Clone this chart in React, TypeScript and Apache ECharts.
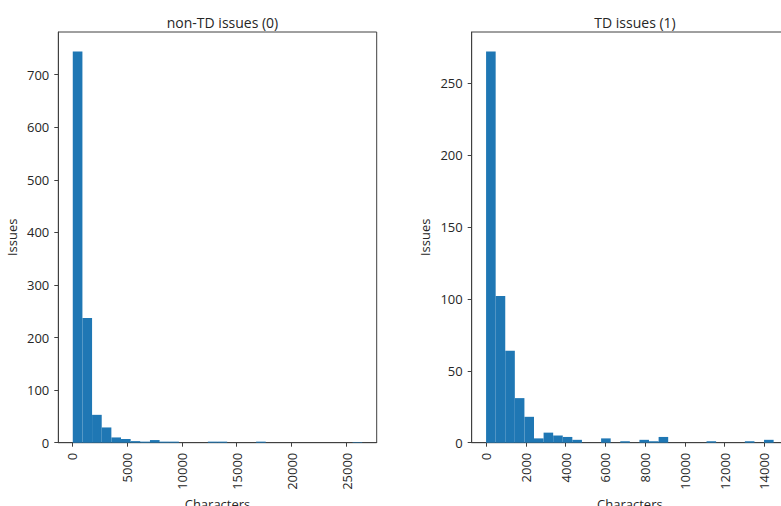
import React, { useEffect, useRef } from "react";
import * as echarts from "echarts";

// Histogram counts (30 bins each)
const LEFT_COUNTS = [744, 237, 53, 29, 10, 7, 3, 2, 5, 2, 2, 0, 0, 0, 2, 2, 0, 0, 0, 2, 0, 0, 0, 0, 0, 0, 0, 0, 0, 1];
const LEFT_RANGE = [70, 26432];
const RIGHT_COUNTS = [272, 102, 64, 31, 18, 3, 7, 5, 4, 2, 0, 0, 3, 0, 1, 0, 2, 1, 4, 0, 0, 0, 0, 1, 0, 0, 0, 1, 0, 2];
const RIGHT_RANGE = [4, 14468];

const LEFT_X_TICKS = [0, 5000, 10000, 15000, 20000, 25000];
const LEFT_Y_TICKS = [0, 100, 200, 300, 400, 500, 600, 700];
const RIGHT_X_TICKS = [0, 2000, 4000, 6000, 8000, 10000, 12000, 14000];
const RIGHT_Y_TICKS = [0, 50, 100, 150, 200, 250];

const TITLES = ["non-TD issues (0)", "TD issues (1)"];
const X_NAME = "Characters";
const Y_NAME = "Issues";

const FONT = "'Open Sans', 'Noto Sans', sans-serif";
const TEXT = "#262626";
const LINE = "#404040";
const BAR = "#1f77b4";

function bins(counts: number[], range: number[]) {
  const w = (range[1] - range[0]) / counts.length;
  return counts.map((c, i) => [range[0] + i * w, range[0] + (i + 1) * w, c]);
}

function xAxis(grid: number, range: number[], ticks: number[]) {
  const r = range[1] - range[0];
  return {
    type: "value",
    gridIndex: grid,
    min: range[0] - 0.05 * r,
    max: range[1] + 0.05 * r,
    splitLine: { show: false },
    axisLine: { show: true, onZero: false, lineStyle: { color: LINE, width: 1 } },
    axisTick: { show: true, length: 4, customValues: ticks, lineStyle: { color: LINE } },
    axisLabel: {
      customValues: ticks,
      rotate: 90,
      margin: 10,
      fontFamily: FONT,
      fontSize: 13,
      color: TEXT,
      formatter: (v: number) => String(v),
    },
    name: X_NAME,
    nameLocation: "middle",
    nameGap: 55,
    nameTextStyle: { fontFamily: FONT, fontSize: 13, color: TEXT },
  };
}

function yAxis(grid: number, counts: number[], ticks: number[]) {
  return {
    type: "value",
    gridIndex: grid,
    min: 0,
    max: Math.max(...counts) * 1.05,
    splitLine: { show: false },
    axisLine: { show: true, onZero: false, lineStyle: { color: LINE, width: 1 } },
    axisTick: { show: true, length: 4, customValues: ticks, lineStyle: { color: LINE } },
    axisLabel: {
      customValues: ticks,
      margin: 9,
      fontFamily: FONT,
      fontSize: 13,
      color: TEXT,
      formatter: (v: number) => String(v),
    },
    name: Y_NAME,
    nameLocation: "middle",
    nameRotate: 90,
    nameGap: 40,
    nameTextStyle: { fontFamily: FONT, fontSize: 13, color: TEXT },
  };
}

function renderBar(_params: any, api: any) {
  const x0 = api.value(0);
  const x1 = api.value(1);
  const c = api.value(2);
  if (!c) return null;
  const p0 = api.coord([x0, 0]);
  const p1 = api.coord([x1, c]);
  return {
    type: "rect",
    shape: { x: p0[0], y: p1[1], width: p1[0] - p0[0], height: p0[1] - p1[1] },
    style: { fill: BAR },
  };
}

export default function App() {
  const ref = useRef<HTMLDivElement>(null);
  useEffect(() => {
    if (!ref.current) return;
    const chart = echarts.init(ref.current, undefined, { renderer: "svg" });
    const gridTop = 32;
    const gridH = 410.7;
    chart.setOption({
      animation: false,
      backgroundColor: "#ffffff",
      title: [
        {
          text: TITLES[0],
          left: 217.5,
          top: 10,
          textAlign: "center",
          textStyle: { fontFamily: FONT, fontSize: 14, fontWeight: "normal", color: TEXT },
        },
        {
          text: TITLES[1],
          left: 630,
          top: 10,
          textAlign: "center",
          textStyle: { fontFamily: FONT, fontSize: 14, fontWeight: "normal", color: TEXT },
        },
      ],
      grid: [
        {
          left: 58.3, top: gridTop, width: 318.4, height: gridH,
          show: true, borderColor: LINE, borderWidth: 1, backgroundColor: "transparent",
          outerBoundsMode: "none", containLabel: false,
        },
        {
          left: 471.7, top: gridTop, width: 316.3, height: gridH,
          show: true, borderColor: LINE, borderWidth: 1, backgroundColor: "transparent",
          outerBoundsMode: "none", containLabel: false,
        },
      ],
      xAxis: [xAxis(0, LEFT_RANGE, LEFT_X_TICKS), xAxis(1, RIGHT_RANGE, RIGHT_X_TICKS)],
      yAxis: [yAxis(0, LEFT_COUNTS, LEFT_Y_TICKS), yAxis(1, RIGHT_COUNTS, RIGHT_Y_TICKS)],
      series: [
        {
          type: "custom",
          xAxisIndex: 0,
          yAxisIndex: 0,
          renderItem: renderBar,
          encode: { x: [0, 1], y: 2 },
          data: bins(LEFT_COUNTS, LEFT_RANGE),
        },
        {
          type: "custom",
          xAxisIndex: 1,
          yAxisIndex: 1,
          renderItem: renderBar,
          encode: { x: [0, 1], y: 2 },
          data: bins(RIGHT_COUNTS, RIGHT_RANGE),
        },
      ],
    });
    return () => chart.dispose();
  }, []);
  return (
    <div style={{ position: "fixed", left: 0, top: 0, width: 781, height: 506, overflow: "hidden", background: "#fff" }}>
      <div ref={ref} style={{ width: 800, height: 506 }} />
    </div>
  );
}
